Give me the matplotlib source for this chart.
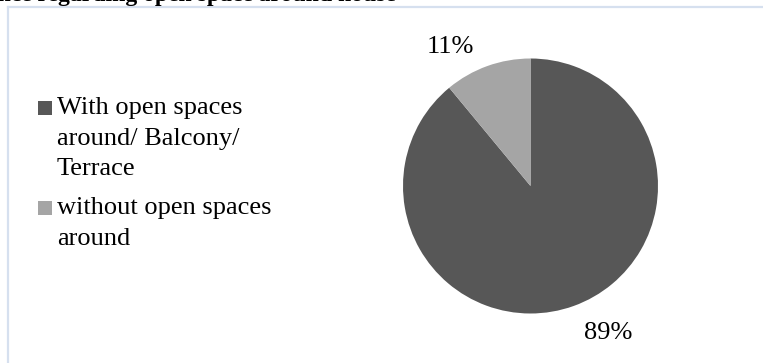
import matplotlib.pyplot as plt
from matplotlib.patches import Rectangle
import numpy as np

categories = ["With open spaces\naround/ Balcony/\nTerrace",
              "without open spaces\naround"]
shares = [89, 11]
colors = ["#575757", "#a5a5a5"]
title = "Preference regarding open space around house"

W, H = 763, 363
cx, cy, r = 530.5, 186, 127.5  # pie centre / radius in pixels

plt.rcParams['font.family'] = ['Liberation Serif', 'DejaVu Serif']

fig = plt.figure(figsize=(W / 100, H / 100), dpi=100)
fig.patch.set_facecolor("white")


def fx(x):
    return x / W


def fy(y):
    return 1 - y / H


# chart frame, clipped off on the right and bottom
fig.add_artist(plt.Line2D([fx(8), fx(8)], [fy(6.5), 0], color="#d6e0ef", lw=1.6))
fig.add_artist(plt.Line2D([fx(8), 1], [fy(6.5), fy(6.5)], color="#d6e0ef", lw=1.6))

# title, mostly above the visible area
fig.text(fx(396), fy(1), title, ha="right", va="baseline",
         fontsize=17, fontweight="bold")

# pie axes spans the whole figure, 1 data unit = r pixels
ax = fig.add_axes([0, 0, 1, 1])
wedges, _ = ax.pie(shares, colors=colors, startangle=90, counterclock=False,
                   radius=1, wedgeprops=dict(linewidth=0))
ax.set_xlim(-cx / r, (W - cx) / r)
ax.set_ylim(-(H - cy) / r, cy / r)
ax.set_aspect("auto")
ax.axis("off")

# percentage labels outside each slice
for w, v in zip(wedges, shares):
    mid = np.deg2rad((w.theta1 + w.theta2) / 2 + 9)
    ax.text(1.28 * np.cos(mid) - 0.01, 1.28 * np.sin(mid) - 0.03, f"{v}%",
            ha="center", va="center", fontsize=19)

# legend on the left
ys = [101, 201]
for lab, col, y in zip(categories, colors, ys):
    fig.add_artist(Rectangle((fx(38), fy(y + 14)), 14 / W, 14 / H,
                             transform=fig.transFigure, color=col, lw=0))
    fig.text(fx(57), fy(y - 4), lab, ha="left", va="top",
             fontsize=19, linespacing=1.5)

fig.savefig("out.png", dpi=100)
